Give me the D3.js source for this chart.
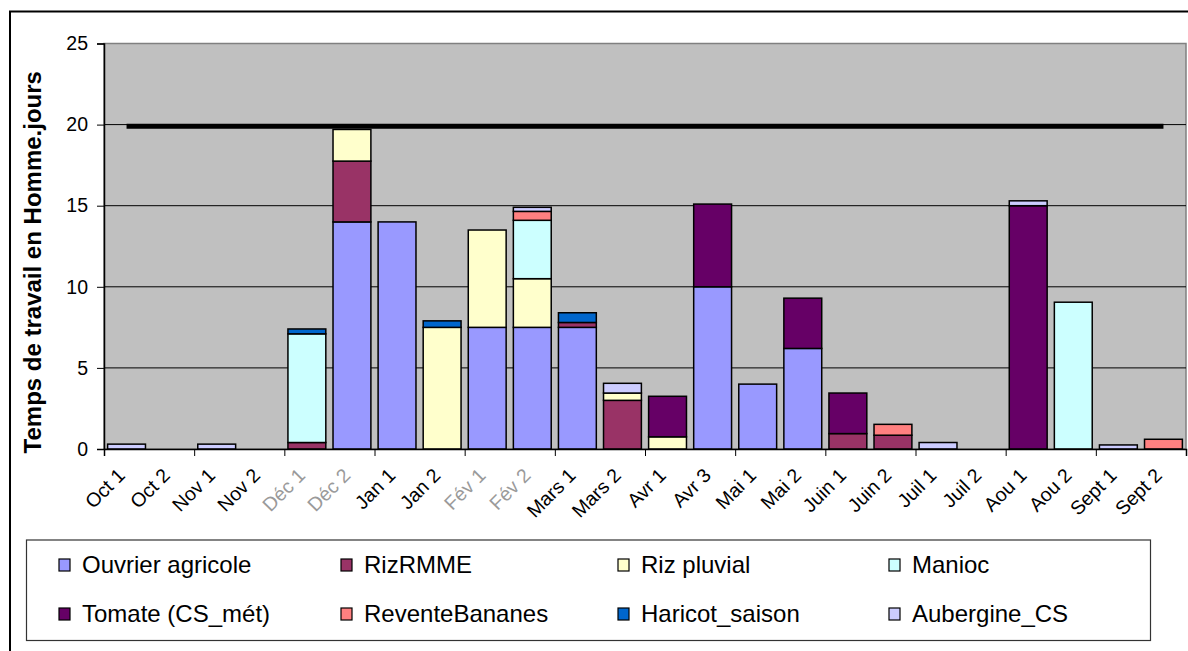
<!DOCTYPE html>
<html>
<head>
<meta charset="utf-8">
<script src="https://cdn.jsdelivr.net/npm/d3@7"></script>
<style>
  html, body { margin: 0; padding: 0; background: #fff; }
  svg { display: block; font-family: "Liberation Sans", Arial, sans-serif; }
</style>
</head>
<body>
<svg id="chart" width="1188" height="651"></svg>
<script>
// Half-month periods
const categories = ["Oct 1","Oct 2","Nov 1","Nov 2","Déc 1","Déc 2","Jan 1","Jan 2",
  "Fév 1","Fév 2","Mars 1","Mars 2","Avr 1","Avr 3","Mai 1","Mai 2",
  "Juin 1","Juin 2","Juil 1","Juil 2","Aou 1","Aou 2","Sept 1","Sept 2"];

// Working time per activity (Homme.jours)
const ouvrierAgricole = [0,0,0,0,0,14,14,0,7.5,7.5,7.5,0,0,10,4,6.2,0,0,0,0,0,0,0,0];
const rizRMME         = [0,0,0,0,0.4,3.75,0,0,0,0,0.3,3,0,0,0,0,0.95,0.85,0,0,0,0,0,0];
const rizPluvial      = [0,0,0,0,0,1.95,0,7.5,6,3,0,0.45,0.75,0,0,0,0,0,0,0,0,0,0,0];
const manioc          = [0,0,0,0,6.7,0,0,0,0,3.6,0,0,0,0,0,0,0,0,0,0,0,9.05,0,0];
const tomate          = [0,0,0,0,0,0,0,0,0,0,0,0,2.5,5.1,0,3.1,2.5,0,0,0,15,0,0,0];
const reventeBananes  = [0,0,0,0,0,0,0,0,0,0.55,0,0,0,0,0,0,0,0.67,0,0,0,0,0,0.6];
const haricotSaison   = [0,0,0,0,0.3,0,0,0.4,0,0,0.6,0,0,0,0,0,0,0,0,0,0,0,0,0];
const aubergineCS     = [0.3,0,0.3,0,0,0,0,0,0,0.25,0,0.6,0,0,0,0,0,0,0.4,0,0.3,0,0.25,0];

// Available labour per period
const capacity = 19.9;

const seriesNames  = ["Ouvrier agricole","RizRMME","Riz pluvial","Manioc",
  "Tomate (CS_mét)","ReventeBananes","Haricot_saison","Aubergine_CS"];
const seriesValues = [ouvrierAgricole, rizRMME, rizPluvial, manioc,
  tomate, reventeBananes, haricotSaison, aubergineCS];
const seriesColors = ["#9999FF","#993366","#FFFFCC","#CCFFFF",
  "#660066","#FF8080","#0066CC","#CCCCFF"];
const yTicks = [0,5,10,15,20,25];

const svg = d3.select("#chart");

// Outer chart frame
svg.append("rect")
  .attr("x", 10).attr("y", 11.5).attr("width", 1250).attr("height", 700)
  .attr("fill", "none").attr("stroke", "#000").attr("stroke-width", 2);

const plot = { left: 104, right: 1186, top: 43.5, bottom: 449 };

const x = d3.scaleBand().domain(categories)
  .range([plot.left, plot.right]).paddingInner(0.16).paddingOuter(0.08);
const y = d3.scaleLinear().domain([0, 25]).range([plot.bottom, plot.top]);

// Plot background
svg.append("rect")
  .attr("x", plot.left).attr("y", plot.top)
  .attr("width", plot.right - plot.left).attr("height", plot.bottom - plot.top)
  .attr("fill", "#C0C0C0").attr("stroke", "#808080").attr("stroke-width", 1.5);

// Horizontal gridlines
svg.append("g").selectAll("line")
  .data(yTicks.filter(d => d > 0 && d < 25))
  .join("line")
  .attr("x1", plot.left).attr("x2", plot.right)
  .attr("y1", d => y(d)).attr("y2", d => y(d))
  .attr("stroke", "#000").attr("stroke-width", 1);

// Stacked bars
const table = categories.map((c, i) => {
  const row = { cat: c };
  seriesNames.forEach((s, k) => row[s] = seriesValues[k][i]);
  return row;
});
const stacked = d3.stack().keys(seriesNames)(table);

svg.append("g").selectAll("g")
  .data(stacked)
  .join("g")
  .attr("fill", (d, k) => seriesColors[k])
  .selectAll("rect")
  .data(d => d.filter(p => p[1] - p[0] > 0))
  .join("rect")
  .attr("x", p => x(p.data.cat))
  .attr("width", x.bandwidth())
  .attr("y", p => y(p[1]))
  .attr("height", p => y(p[0]) - y(p[1]))
  .attr("stroke", "#000").attr("stroke-width", 1.5);

// Capacity line
svg.append("path")
  .datum(categories)
  .attr("d", d3.line().x(c => x(c) + x.bandwidth() / 2).y(() => y(capacity)))
  .attr("stroke", "#000").attr("stroke-width", 5).attr("fill", "none");

// Y axis
const yAxis = svg.append("g")
  .attr("transform", `translate(${plot.left},0)`)
  .call(d3.axisLeft(y).tickValues(yTicks).tickSize(7).tickPadding(9).tickFormat(d3.format("d")));
yAxis.select(".domain").attr("stroke", "#000").attr("stroke-width", 1.5);
yAxis.selectAll(".tick line").attr("stroke", "#000");
yAxis.selectAll("text").attr("font-size", 19.5).attr("fill", "#000")
  .attr("font-family", "Liberation Sans, Arial, sans-serif");

// X axis: tick marks between every second period
const xt = d3.scaleLinear().domain([0, categories.length]).range([plot.left, plot.right]);
const xAxis = svg.append("g")
  .attr("transform", `translate(0,${plot.bottom})`)
  .call(d3.axisBottom(xt).tickValues(d3.range(0, categories.length + 1, 2)).tickSize(7).tickFormat(""));
xAxis.select(".domain").attr("stroke", "#000").attr("stroke-width", 1.5);
xAxis.selectAll(".tick line").attr("stroke", "#000");

// Period labels, rotated
const faint = new Set(["Déc 1","Déc 2","Fév 1","Fév 2"]);
svg.append("g").selectAll("text")
  .data(categories)
  .join("text")
  .attr("transform", c => `translate(${x(c) + x.bandwidth() / 2 - 10},${plot.bottom + 18}) rotate(-45)`)
  .attr("text-anchor", "end")
  .attr("dy", "0.7em")
  .attr("font-size", 19.5)
  .attr("fill", c => faint.has(c) ? "#9a9a9a" : "#000")
  .text(c => c);

// Y axis title
svg.append("text")
  .attr("transform", `translate(41,${(plot.top + plot.bottom) / 2 + 16}) rotate(-90)`)
  .attr("text-anchor", "middle")
  .attr("font-size", 24).attr("font-weight", "bold")
  .text("Temps de travail en Homme.jours");

// Legend
const legend = svg.append("g");
legend.append("rect")
  .attr("x", 26.5).attr("y", 540).attr("width", 1124).attr("height", 100.5)
  .attr("fill", "#fff").attr("stroke", "#333").attr("stroke-width", 1.2);

const colX = [59, 341, 618, 889];
const rowY = [565, 614];
const items = legend.selectAll("g.item")
  .data(seriesNames)
  .join("g")
  .attr("class", "item")
  .attr("transform", (d, i) => `translate(${colX[i % 4]},${rowY[Math.floor(i / 4)]})`);
items.append("rect")
  .attr("x", 0).attr("y", -6).attr("width", 11).attr("height", 12)
  .attr("fill", (d, i) => seriesColors[i]).attr("stroke", "#000").attr("stroke-width", 1.2);
items.append("text")
  .attr("x", 23).attr("y", 0).attr("dy", "0.35em")
  .attr("font-size", 24).attr("fill", "#000")
  .text(d => d);
</script>
</body>
</html>
